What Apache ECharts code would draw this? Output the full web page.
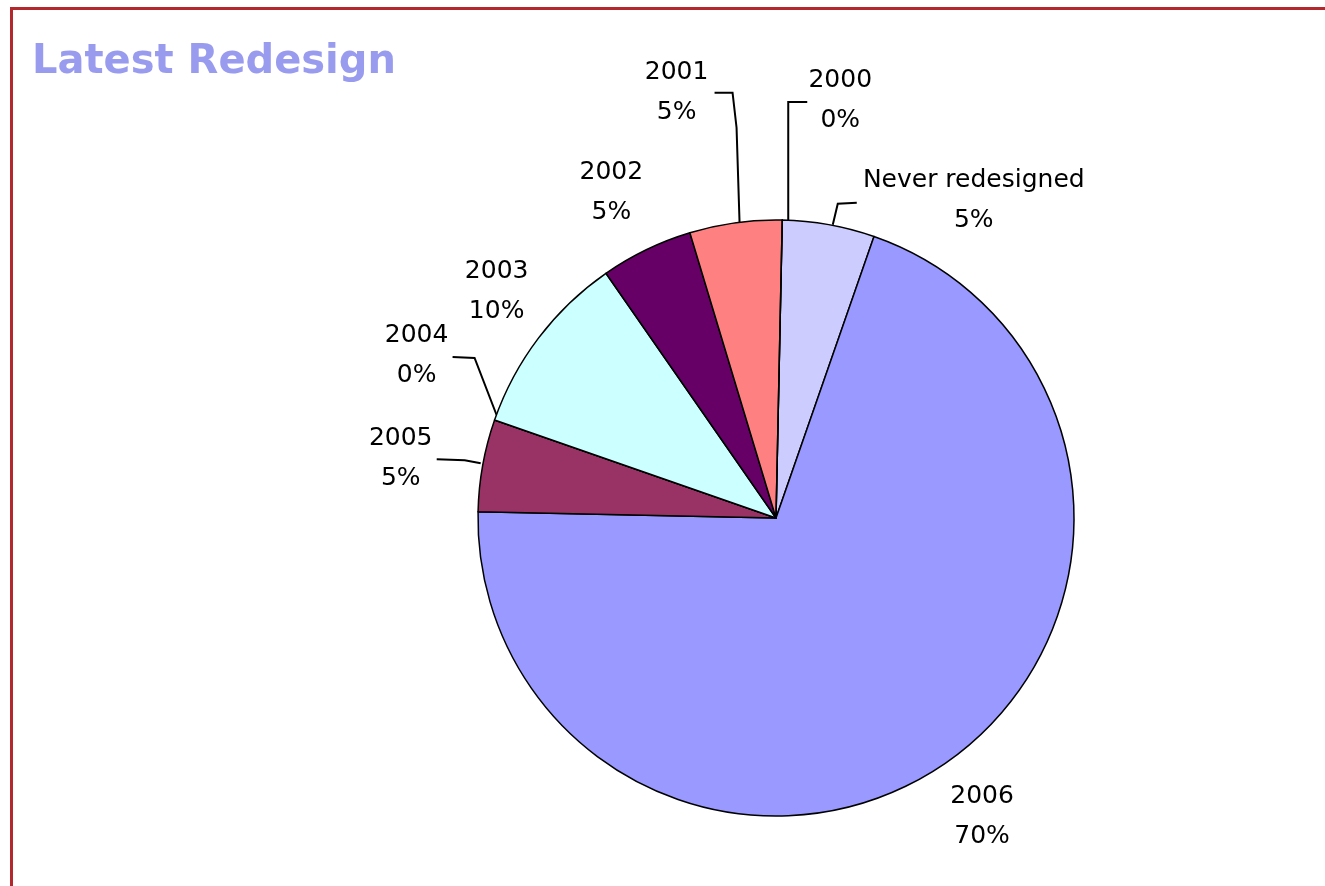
<!DOCTYPE html>
<html><head><meta charset="utf-8">
<script src="https://cdn.jsdelivr.net/npm/echarts@6/dist/echarts.min.js"></script>
<style>
html,body{margin:0;padding:0;background:#fff;width:1325px;height:886px;overflow:hidden;}
#frame{position:absolute;left:10px;top:7px;right:0;bottom:0;border-top:3px solid #b3282d;border-left:3px solid #b3282d;}
#chart{position:absolute;left:0;top:0;width:1325px;height:886px;}
</style></head><body>
<div id="frame"></div><div id="chart"></div>
<script>
// ---- data ----
const titleText = 'Latest Redesign';
const categories = ['Never redesigned', '2006', '2005', '2004', '2003', '2002', '2001', '2000'];
const counts = [1, 14, 1, 0, 2, 1, 1, 0];
const sliceColors = ['#ccccff', '#9999ff', '#993366', '#ffffcc', '#ccffff', '#660066', '#ff8080', '#0066cc'];

// ---- label placement (styling: offsets from each slice's edge point) ----
const labelOffsets = [[145, -24], [36, 54], [-82, -7], [-78, -64], [-42, -46], [-35, -57], [-59, -130], [58, -120]];
const leaderPaths = [
  [[4, 0], [9, -21], [28, -22]],
  null,
  [[-2, -2], [-18, -5], [-46, -6]],
  [[2, -5], [-20, -62], [-42, -63]],
  null,
  null,
  [[4, 0], [1, -95], [-3, -130], [-21, -130]],
  [[6, 2], [6, -118], [25, -118]]
];

const chart = echarts.init(document.getElementById('chart'), null, {renderer: 'canvas'});
const data = categories.map((name, i) => ({
  name: name,
  value: counts[i],
  itemStyle: {color: sliceColors[i]},
  labelLine: {show: true, lineStyle: {opacity: leaderPaths[i] ? 1 : 0}}
}));

chart.setOption({
  animation: false,
  title: {
    text: titleText,
    left: 27,
    top: 38,
    textStyle: {fontFamily: 'DejaVu Sans', fontWeight: 'bold', fontSize: 40, color: '#999cee'}
  },
  series: [{
    type: 'pie',
    center: [776, 518],
    radius: 298,
    startAngle: 88.8,
    clockwise: true,
    avoidLabelOverlap: false,
    minShowLabelAngle: 0,
    data: data,
    itemStyle: {borderColor: '#000', borderWidth: 1.5},
    emphasis: {disabled: true},
    label: {
      show: true,
      position: 'outside',
      formatter: '{b}\n{d}%',
      fontFamily: 'DejaVu Sans',
      fontSize: 25,
      lineHeight: 40,
      color: '#000',
      align: 'center'
    },
    labelLine: {show: true, length: 10, length2: 10, smooth: false, lineStyle: {color: '#000', width: 2}},
    labelLayout: function (params) {
      const i = params.dataIndex;
      const pts = params.labelLinePoints;
      if (!pts) return {};
      const p1 = pts[0];
      const off = labelOffsets[i];
      const res = {
        x: p1[0] + off[0],
        y: p1[1] + off[1],
        align: 'center',
        verticalAlign: 'middle'
      };
      const path = leaderPaths[i];
      if (path) {
        res.labelLinePoints = path.map(d => [p1[0] + d[0], p1[1] + d[1]]);
      } else {
        res.labelLinePoints = [[p1[0], p1[1]], [p1[0], p1[1]], [p1[0], p1[1]]];
      }
      return res;
    }
  }]
});
</script>
</body></html>
